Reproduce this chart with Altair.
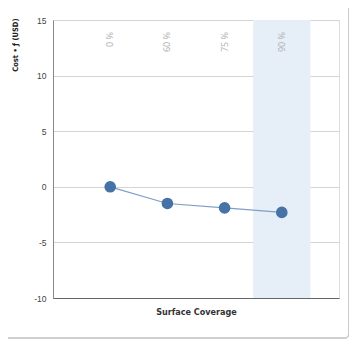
import altair as alt
import pandas as pd

categories = ["0 %", "60 %", "75 %", "90 %"]
costs = [0.0, -1.5, -1.9, -2.3]
highlighted = ["90 %"]
y_ticks = [-10, -5, 0, 5, 10, 15]

df = pd.DataFrame({"coverage": categories, "cost": costs})
hl = pd.DataFrame({"coverage": highlighted})

FONT = "'Liberation Sans Narrow', 'DejaVu Sans Condensed', 'Roboto Condensed', 'Arial Narrow', Roboto, sans-serif"

xscale = alt.Scale(domain=categories, paddingInner=0, paddingOuter=0.5)
yscale = alt.Scale(domain=[-10, 15], nice=False, zero=False)

xaxis = alt.Axis(labels=False, ticks=False, grid=False, domainColor="#666",
                 titleFont=FONT, titleFontSize=9,
                 titleFontWeight="bold", titleColor="#333", titlePadding=9)
yaxis = alt.Axis(values=y_ticks, ticks=False, grid=True, gridColor="#d5d5d5",
                 domainColor="#888", labelFont="Liberation Sans", labelFontSize=8.5,
                 labelColor="#444", labelPadding=7,
                 labelExpr="replace(datum.label, '\u2212', '-')",
                 titleFont=FONT, titleFontSize=7.5,
                 titleFontWeight="bold", titleColor="#222", titleAngle=-90,
                 titleAlign="right", titleBaseline="middle", titleX=-38, titleY=-2)

xenc = alt.X("coverage:N", scale=xscale, axis=xaxis, title="Surface Coverage")
yenc = alt.Y("cost:Q", scale=yscale, axis=yaxis, title="Cost \u2022 \u0192 (USD)")

band = alt.Chart(hl).mark_rect(color="#e6eef7").encode(
    x=xenc,
    y=alt.value(0),
    y2=alt.value(278),
)

line = alt.Chart(df).mark_line(color="#7f9ec8", strokeWidth=1.2).encode(x=xenc, y=yenc)

points = alt.Chart(df).mark_circle(color="#4572a7", opacity=1, size=135).encode(x=xenc, y=yenc)

labels = alt.Chart(df).mark_text(angle=270, align="right", baseline="middle",
                                 font="Open Sans", fontSize=9, color="#b0b0b0").encode(
    x=xenc,
    y=alt.value(12),
    text="coverage:N",
)

frame = alt.Chart(df).mark_rect(fill=None, stroke="#cccccc", strokeWidth=1, cornerRadius=3).encode(
    x=alt.value(-60), x2=alt.value(295.5), y=alt.value(-40), y2=alt.value(318)
)

chart = alt.layer(band, frame, line, points, labels).properties(
    width=286, height=278,
    title=alt.TitleParams("PV - Surface Coverage", anchor="start", frame="group",
                          dx=-41, offset=13, font=FONT, fontSize=10, fontWeight="bold",
                          color="#222", baseline="bottom"),
    autosize=alt.AutoSizeParams(type="none"),
    padding={"left": 45, "top": 12, "right": 11, "bottom": 42},
).configure_view(stroke="#bbbbbb").configure(background="white")

chart.save("out.html", embed_options={"renderer": "svg", "actions": False})
